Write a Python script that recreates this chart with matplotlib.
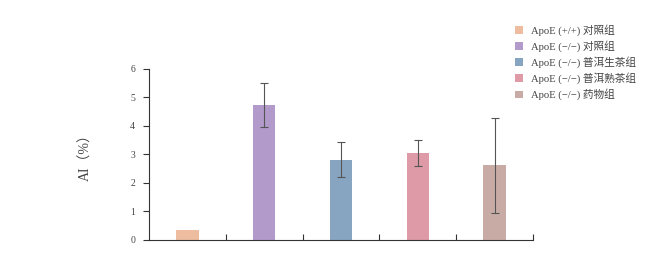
import matplotlib
matplotlib.use("Agg")
import matplotlib.pyplot as plt
from matplotlib.patches import Patch

plt.rcParams['font.family'] = ['Liberation Serif', 'Noto Sans CJK SC', 'DejaVu Sans']

groups = ["ApoE (+/+) 对照组", "ApoE (−/−) 对照组", "ApoE (−/−) 普洱生茶组",
          "ApoE (−/−) 普洱熟茶组", "ApoE (−/−) 药物组"]
values = [0.36, 4.73, 2.82, 3.04, 2.62]
errors = [0.0, 0.77, 0.60, 0.45, 1.66]
colors = ["#EEBDA0", "#B29ACB", "#87A5C1", "#DE9AA6", "#C9ABA5"]
yticks = [0, 1, 2, 3, 4, 5, 6]

fig = plt.figure(figsize=(6.54, 2.59), dpi=100)
ax = fig.add_axes([0.228, 0.0734, 0.587, 0.661])

x = list(range(len(values)))
ax.bar(x, values, width=0.29, color=colors, zorder=2)
for xi, v, e in zip(x, values, errors):
    if e > 0:
        ax.errorbar(xi, v, yerr=e, fmt='none', ecolor='#555555', elinewidth=0.8,
                    capsize=3, capthick=0.8, zorder=3)

ax.set_xlim(-0.5, 4.5)
ax.set_ylim(0, 6)
ax.set_yticks(yticks)
ax.set_yticklabels([str(t) for t in yticks], fontsize=7, color='#444444')
ax.set_xticks([0.5, 1.5, 2.5, 3.5, 4.5])
ax.set_xticklabels([])
ax.tick_params(axis='x', direction='in', length=4, width=0.8, color='#333333')
ax.tick_params(axis='y', direction='out', length=4, width=0.8, color='#333333', pad=6)
for s in ['top', 'right']:
    ax.spines[s].set_visible(False)
for s in ['left', 'bottom']:
    ax.spines[s].set_color('#333333')
    ax.spines[s].set_linewidth(0.8)

ax.set_ylabel("AI（%）", fontsize=10, color='#444444', labelpad=27)

handles = [Patch(facecolor=c, edgecolor='none') for c in colors]
leg = fig.legend(handles, groups, loc='upper left', bbox_to_anchor=(0.772, 0.943),
                 frameon=False, fontsize=7.7, handlelength=0.75, handleheight=0.75,
                 handletextpad=0.8, labelspacing=0.4, labelcolor='#444444')

fig.savefig("out.png", dpi=100)
